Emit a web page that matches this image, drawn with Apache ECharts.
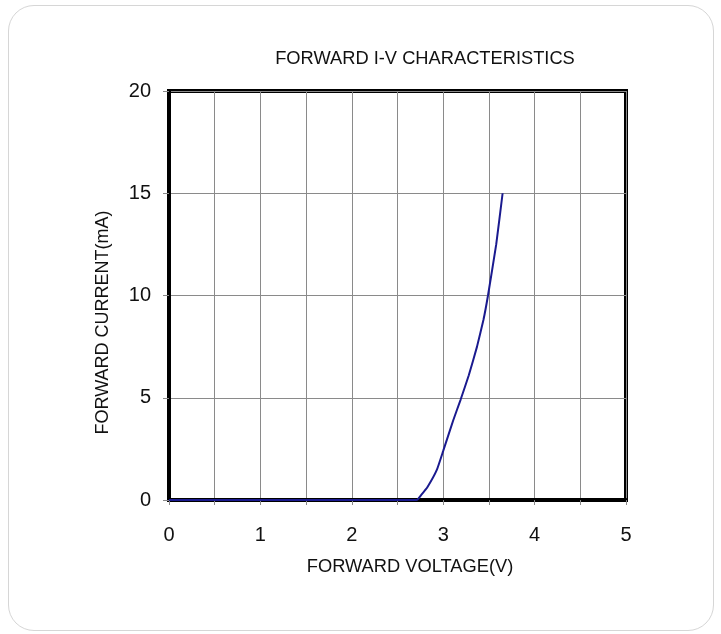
<!DOCTYPE html>
<html><head><meta charset="utf-8">
<script src="https://cdn.jsdelivr.net/npm/echarts@6/dist/echarts.min.js"></script>
<style>
html,body{margin:0;padding:0;background:#fff;}
#frame{position:absolute;left:8px;top:5px;width:706px;height:626px;border:1.5px solid #d6d6d6;border-radius:26px;box-sizing:border-box;}
#c{position:absolute;left:0;top:0;width:721px;height:634px;}
</style></head>
<body>
<div id="frame"></div>
<div id="c"></div>
<script>
const titleText = "FORWARD I-V CHARACTERISTICS";
const xName = "FORWARD VOLTAGE(V)";
const yName = "FORWARD CURRENT(mA)";
const voltage = [0, 1.0, 2.0, 2.71, 2.76, 2.83, 2.93, 3.00, 3.11, 3.19, 3.28, 3.37, 3.44, 3.49, 3.58, 3.65];
const current = [0, 0, 0, 0, 0.25, 0.65, 1.47, 2.4, 3.9, 4.9, 6.1, 7.5, 8.8, 10.0, 12.5, 15.0];
const data = voltage.map((v, i) => [v, current[i]]);
const font = "'Liberation Sans', Arial, sans-serif";
const chart = echarts.init(document.getElementById('c'));
chart.setOption({
  backgroundColor: 'transparent',
  animation: false,
  title: { text: titleText, left: 420, top: 45, textAlign: 'center',
    textStyle: { fontFamily: font, fontSize: 18.3, fontWeight: 'normal', color: '#111' } },
  grid: { left: 169, top: 91, width: 457, height: 409, show: true, borderColor: '#000', borderWidth: 4, backgroundColor: 'transparent' },
  xAxis: {
    type: 'value', min: 0, max: 5, interval: 0.5,
    name: xName, nameLocation: 'middle', nameGap: 58,
    nameTextStyle: { fontFamily: font, fontSize: 18.3, color: '#111', padding: [0, 0, 0, 25] },
    axisLine: { show: true, lineStyle: { color: '#000', width: 4 } },
    axisTick: { show: true, length: 5, lineStyle: { color: '#888' } },
    splitLine: { show: true, lineStyle: { color: '#8a8a8a', width: 1 } },
    axisLabel: { margin: 25, fontFamily: font, fontSize: 20, color: '#111',
      formatter: v => (Math.abs(v - Math.round(v)) < 1e-9 ? String(Math.round(v)) : '') }
  },
  yAxis: {
    type: 'value', min: 0, max: 20, interval: 5,
    name: yName, nameLocation: 'middle', nameGap: 57, nameRotate: 90,
    nameTextStyle: { fontFamily: font, fontSize: 18, color: '#111', padding: [0, 54, 0, 0] },
    axisLine: { show: true, lineStyle: { color: '#000', width: 4 } },
    axisTick: { show: true, length: 6, lineStyle: { color: '#888' } },
    splitLine: { show: true, lineStyle: { color: '#8a8a8a', width: 1 } },
    axisLabel: { margin: 18, fontFamily: font, fontSize: 20, color: '#111' }
  },
  series: [{
    type: 'line', data: data, smooth: 0.12, symbol: 'none',
    lineStyle: { color: '#1a1a8f', width: 2 }
  }]
});
</script>
</body></html>
